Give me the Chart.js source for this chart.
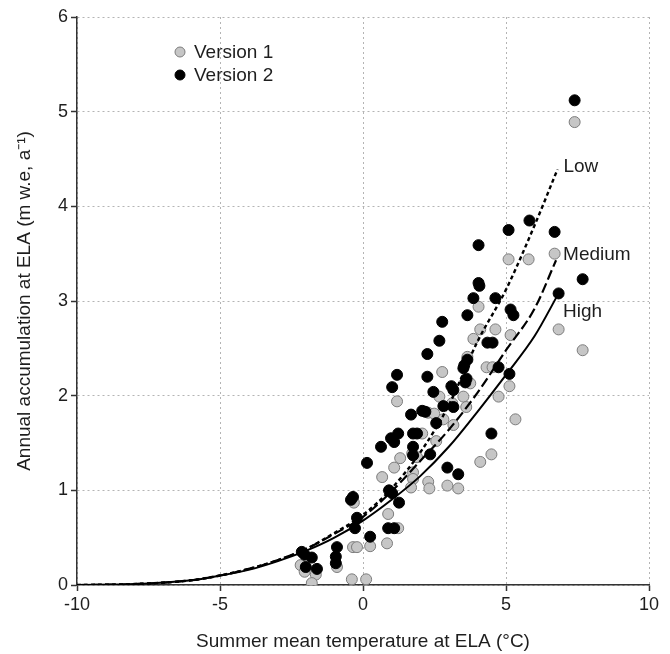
<!DOCTYPE html>
<html>
<head>
<meta charset="utf-8">
<script src="https://cdn.jsdelivr.net/npm/chart.js@4.4.0/dist/chart.umd.min.js"></script>
<style>
  body { margin: 0; background: #fff; }
  #wrap { width: 670px; height: 654px; }
</style>
</head>
<body>
<div id="wrap"><canvas id="elaChart"></canvas></div>
<script>
// Version 1 (grey) points: summer temperature vs accumulation
const v1Temp = [7.40, 6.70, 6.84, 7.68, 5.09, 5.79, 4.04, 4.10, 4.63, 3.86, 5.16, 3.65, 4.32, 4.53, 5.12,
    4.74, 5.33, 2.77, 1.19, 3.75, 2.67, 3.12, 3.51, 3.61, 2.28, 2.49, 2.81, 3.16, 2.07, 2.56, 1.72, 1.89,
    1.30, 1.09, 1.75, 0.67, 1.75, 2.28, 1.68, 2.32, 2.95, 3.33, 4.10, 4.49, -0.32, -0.35, -0.21, 0.25,
    0.88, 1.23, 0.84, -0.91, -2.18, -2.04, -1.65, -1.79, -0.39, 0.11];
const v1Acc = [4.89, 3.50, 2.70, 2.48, 3.44, 3.44, 2.94, 2.70, 2.70, 2.60, 2.64, 2.41, 2.30, 2.30, 2.10,
    1.99, 1.75, 2.25, 1.94, 2.13, 1.99, 1.92, 1.99, 1.88, 1.82, 1.81, 1.75, 1.69, 1.60, 1.52, 1.39, 1.35,
    1.34, 1.24, 1.19, 1.14, 1.12, 1.09, 1.03, 1.02, 1.05, 1.02, 1.30, 1.38, 0.87, 0.40, 0.40, 0.41,
    0.75, 0.60, 0.44, 0.19, 0.21, 0.14, 0.11, 0.02, 0.06, 0.06];

// Version 2 (black) points
const v2Temp = [7.40, 5.82, 5.09, 6.70, 4.04, 7.68, 6.84, 4.04, 4.07, 3.86, 4.63, 5.16, 5.26, 2.77, 3.65,
    2.67, 4.35, 4.53, 2.25, 3.65, 3.54, 3.51, 4.74, 5.12, 1.19, 1.02, 2.25, 2.46, 3.09, 3.16, 3.58, 3.62,
    2.81, 3.16, 1.68, 2.07, 2.18, 2.56, 1.23, 1.75, 1.89, 0.98, 1.09, 0.63, 1.75, 1.75, 2.35, 0.14, 2.95,
    3.33, 0.91, 1.02, 1.26, 4.49, -0.35, -0.42, -0.21, -0.28, 0.25, 0.88, 1.09, -0.91, -0.95, -0.95,
    -2.14, -2.04, -1.79, -2.00, -1.61];
const v2Acc = [5.12, 3.85, 3.75, 3.73, 3.59, 3.23, 3.08, 3.19, 3.16, 3.03, 3.03, 2.91, 2.85, 2.78, 2.85,
    2.58, 2.56, 2.56, 2.44, 2.38, 2.32, 2.29, 2.30, 2.23, 2.22, 2.09, 2.20, 2.04, 2.10, 2.06, 2.14, 2.18,
    1.89, 1.88, 1.80, 1.84, 1.83, 1.71, 1.60, 1.60, 1.60, 1.55, 1.51, 1.46, 1.46, 1.37, 1.38, 1.29, 1.24,
    1.17, 1.00, 0.97, 0.87, 1.60, 0.93, 0.90, 0.71, 0.60, 0.51, 0.60, 0.60, 0.40, 0.30, 0.23,
    0.35, 0.32, 0.29, 0.19, 0.17];

// Fitted curves
const lowTemp = [-10, -8, -6, -5, -4, -3, -2, -1, 0, 1, 2, 3, 4, 5, 6, 6.8];
const lowAcc = [0, 0.01, 0.05, 0.10, 0.17, 0.26, 0.38, 0.55, 0.74, 1.02, 1.40, 1.90, 2.57, 3.12, 3.80, 4.39];
const medTemp = [-10, -8, -6, -5, -4, -3, -2, -1, 0, 1, 2, 3, 4, 5, 6, 6.75];
const medAcc = [0, 0.01, 0.05, 0.10, 0.17, 0.26, 0.38, 0.54, 0.72, 0.99, 1.31, 1.64, 2.03, 2.48, 2.92, 3.43];
const highTemp = [-10, -8, -6, -5, -4, -3, -2, -1, 0, 1, 2, 3, 4, 5, 6, 6.82];
const highAcc = [0, 0.01, 0.05, 0.10, 0.16, 0.25, 0.36, 0.50, 0.68, 0.90, 1.15, 1.46, 1.83, 2.22, 2.63, 3.07];

const curveNames = ['Low', 'Medium', 'High'];
const seriesNames = ['Version 1', 'Version 2'];
const xTicks = [-10, -5, 0, 5, 10];
const yTicks = [0, 1, 2, 3, 4, 5, 6];

const FONT = '"Liberation Sans", Arial, sans-serif';
const GREY_FILL = '#c6c6c6';
const GREY_EDGE = '#7c7c7c';
const TEXT = '#1e1e1e';

const toPoints = (xs, ys) => xs.map((x, i) => ({ x: x, y: ys[i] }));

function curve(label, xs, ys, dash, width) {
    return {
        type: 'line',
        label: label,
        data: toPoints(xs, ys),
        borderColor: '#000',
        borderWidth: width,
        borderDash: dash,
        pointRadius: 0,
        fill: false,
        cubicInterpolationMode: 'monotone'
    };
}

// legend inside the plot + curve names at the line ends
const annotate = {
    id: 'annotate',
    afterDatasetsDraw(chart) {
        const ctx = chart.ctx;
        const area = chart.chartArea;
        ctx.save();
        ctx.font = '19px ' + FONT;
        ctx.fillStyle = TEXT;
        ctx.textBaseline = 'middle';
        ctx.textAlign = 'left';

        const swatch = [[GREY_FILL, GREY_EDGE], ['#000', '#000']];
        seriesNames.forEach((name, i) => {
            const x = area.left + 103;
            const y = area.top + 35 + i * 23;
            ctx.beginPath();
            ctx.arc(x, y, 5, 0, Math.PI * 2);
            ctx.fillStyle = swatch[i][0];
            ctx.fill();
            ctx.lineWidth = 1;
            ctx.strokeStyle = swatch[i][1];
            ctx.stroke();
            ctx.fillStyle = TEXT;
            ctx.fillText(name, x + 14, y + 1);
        });

        const offsets = [[6, -3], [7, -6], [5, 17]];
        curveNames.forEach((name, i) => {
            const pts = chart.getDatasetMeta(i).data;
            const end = pts[pts.length - 1];
            ctx.fillText(name, end.x + offsets[i][0], end.y + offsets[i][1]);
        });
        ctx.restore();
    }
};

const ctx = document.getElementById('elaChart').getContext('2d');
new Chart(ctx, {
    type: 'scatter',
    data: {
        datasets: [
            curve(curveNames[0], lowTemp, lowAcc, [4, 3], 2.4),
            curve(curveNames[1], medTemp, medAcc, [10, 4], 2.2),
            curve(curveNames[2], highTemp, highAcc, [], 2),
            {
                label: seriesNames[1],
                data: toPoints(v2Temp, v2Acc),
                backgroundColor: '#000',
                borderColor: '#000',
                borderWidth: 1,
                pointRadius: 5.5
            },
            {
                label: seriesNames[0],
                data: toPoints(v1Temp, v1Acc),
                backgroundColor: GREY_FILL,
                borderColor: GREY_EDGE,
                borderWidth: 1,
                pointRadius: 5.5
            }
        ]
    },
    options: {
        responsive: true,
        maintainAspectRatio: false,
        animation: false,
        layout: { padding: { left: 0, right: 21, top: 17, bottom: 0 } },
        plugins: {
            legend: { display: false },
            tooltip: { enabled: false }
        },
        scales: {
            x: {
                type: 'linear',
                min: xTicks[0],
                max: xTicks[xTicks.length - 1],
                afterBuildTicks: scale => { scale.ticks = xTicks.map(v => ({ value: v })); },
                afterFit: scale => { scale.height = 69; },
                ticks: {
                    color: TEXT,
                    font: { family: FONT, size: 18 },
                    padding: 3
                },
                grid: {
                    color: '#b4b4b4',
                    lineWidth: 1,
                    tickLength: 6,
                    tickColor: '#333',
                    tickWidth: 1.5
                },
                border: { display: true, color: '#333', width: 1.5, dash: [2, 3] },
                title: {
                    display: true,
                    text: 'Summer mean temperature at ELA (°C)',
                    color: TEXT,
                    font: { family: FONT, size: 19 },
                    padding: { top: 0, bottom: 1 }
                }
            },
            y: {
                type: 'linear',
                min: yTicks[0],
                max: yTicks[yTicks.length - 1],
                afterBuildTicks: scale => { scale.ticks = yTicks.map(v => ({ value: v })); },
                afterFit: scale => { scale.width = 77; },
                ticks: {
                    color: TEXT,
                    font: { family: FONT, size: 18 },
                    padding: 3
                },
                grid: {
                    color: '#b4b4b4',
                    lineWidth: 1,
                    tickLength: 6,
                    tickColor: '#333',
                    tickWidth: 1.5
                },
                border: { display: true, color: '#333', width: 1.5, dash: [2, 3] },
                title: {
                    display: true,
                    text: 'Annual accumulation at ELA (m w.e, a⁻¹)',
                    color: TEXT,
                    font: { family: FONT, size: 19 },
                    padding: { top: 13, bottom: 0 }
                }
            }
        }
    },
    plugins: [annotate]
});
</script>
</body>
</html>
